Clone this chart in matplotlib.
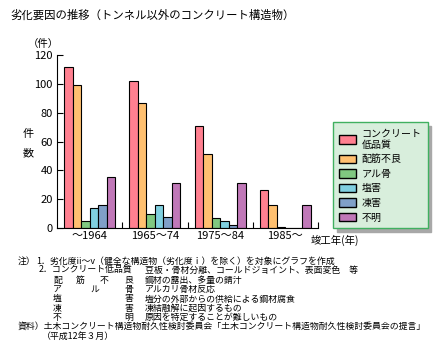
import matplotlib
matplotlib.use("Agg")
import matplotlib.pyplot as plt
import numpy as np

plt.rcParams['font.family'] = ['Noto Sans CJK JP', 'DejaVu Sans']

# data
periods = ['～1964', '1965～74', '1975～84', '1985～']
causes = ['コンクリート\n低品質', '配筋不良', 'アル骨', '塩害', '凍害', '不明']
low_quality = [112, 102, 71, 26]
rebar = [99, 87, 51, 16]
asr = [5, 9.5, 7, 0.7]
salt = [13.5, 16, 5, 0]
frost = [16, 7.5, 2, 0]
unknown = [35, 31, 31, 16]
series = [low_quality, rebar, asr, salt, frost, unknown]
colors = ['#ff8090', '#ffc070', '#80c880', '#80d0e0', '#80a0c8', '#c078b8']
yticks = [0, 20, 40, 60, 80, 100, 120]

W, H = 440, 357
fig = plt.figure(figsize=(W / 100, H / 100), dpi=100)


def fx(x):
    return x / W


def fy(y):
    return 1 - y / H


ax = fig.add_axes([fx(57), fy(227.7), fx(318) - fx(57), fy(55.3) - fy(227.7)])

x = np.arange(len(periods))
bw = 0.13
for i, (vals, c, lab) in enumerate(zip(series, colors, causes)):
    ax.bar(x - 0.39 + bw / 2 + i * bw, vals, bw, color=c, edgecolor='black',
           linewidth=0.8, label=lab)

ax.set_xlim(-0.5, 3.5)
ax.set_ylim(0, 120)
ax.set_yticks(yticks)
ax.tick_params(axis='y', direction='in', length=4.3, width=0.8, labelsize=8, pad=3)
ax.set_xticks(x)
ax.set_xticklabels(periods)
ax.tick_params(axis='x', which='major', length=0, labelsize=8, pad=2.5)
ax.set_xticks([0.5, 1.5, 2.5, 3.5], minor=True)
ax.tick_params(axis='x', which='minor', direction='in', length=4, width=0.8)
for s in ['top', 'right']:
    ax.spines[s].set_visible(False)
for s in ['left', 'bottom']:
    ax.spines[s].set_linewidth(0.8)

leg = ax.legend(loc='upper left', bbox_to_anchor=(fx(333.3), fy(122.3)),
                bbox_transform=fig.transFigure, borderaxespad=0, fontsize=7.2,
                handlelength=1.7, handleheight=1.0, handletextpad=0.55,
                labelspacing=0.45, borderpad=0.6, fancybox=False,
                facecolor='#d8eedc', edgecolor='#40b060', framealpha=1,
                shadow={'ox': 2.5, 'oy': -2.5, 'facecolor': '#a8a8a8',
                        'edgecolor': '#a8a8a8', 'alpha': 1})
leg.get_frame().set_linewidth(1)
for p in leg.get_patches():
    p.set_linewidth(1)

# titles and axis texts
fig.text(fx(10), fy(15), '劣化要因の推移（トンネル以外のコンクリート構造物）',
         fontsize=8.2, va='center', ha='left')
fig.text(fx(43), fy(44), '（件）', fontsize=7.5, va='center', ha='center')
fig.text(fx(28), fy(134), '件', fontsize=8, va='center', ha='center')
fig.text(fx(28), fy(153), '数', fontsize=8, va='center', ha='center')
fig.text(fx(311), fy(240), '竣工年(年)', fontsize=7.5, va='center', ha='left')

# notes
fs = 6.4
rows = [261.7, 270.7, 280, 289.3, 299, 308.3, 317.3, 326.7, 336]
fig.text(fx(18), fy(rows[0]), '注）', fontsize=fs, va='center')
fig.text(fx(36), fy(rows[0]), '1．劣化度ii～v（健全な構造物（劣化度ｉ）を除く）を対象にグラフを作成',
         fontsize=fs, va='center')
fig.text(fx(39), fy(rows[1]), '2．コンクリート低品質', fontsize=fs, va='center')
fig.text(fx(145), fy(rows[1]), '豆板・骨材分離、コールドジョイント、表面変色　等',
         fontsize=fs, va='center')
labels = [['配', '筋', '不', '良'], ['ア', 'ル', '', '骨'], ['塩', '', '', '害'],
          ['凍', '', '', '害'], ['不', '', '', '明']]
descs = ['鋼材の露出、多量の錆汁', 'アルカリ骨材反応', '塩分の外部からの供給による鋼材腐食',
         '凍結融解に起因するもの', '原因を特定することが難しいもの']
cols = [53, 76, 100, 124]
for r, (chars, d) in enumerate(zip(labels, descs)):
    yy = fy(rows[r + 2])
    for cx, ch in zip(cols, chars):
        if ch:
            xx = 90 if (ch == 'ル') else cx
            fig.text(fx(xx), yy, ch, fontsize=fs, va='center')
    fig.text(fx(145), yy, d, fontsize=fs, va='center')
fig.text(fx(18), fy(rows[7]),
         '資料）土木コンクリート構造物耐久性検討委員会「土木コンクリート構造物耐久性検討委員会の提言」',
         fontsize=fs, va='center')
fig.text(fx(42), fy(rows[8]), '（平成12年３月）', fontsize=fs, va='center')

fig.savefig('out.png', dpi=100)
